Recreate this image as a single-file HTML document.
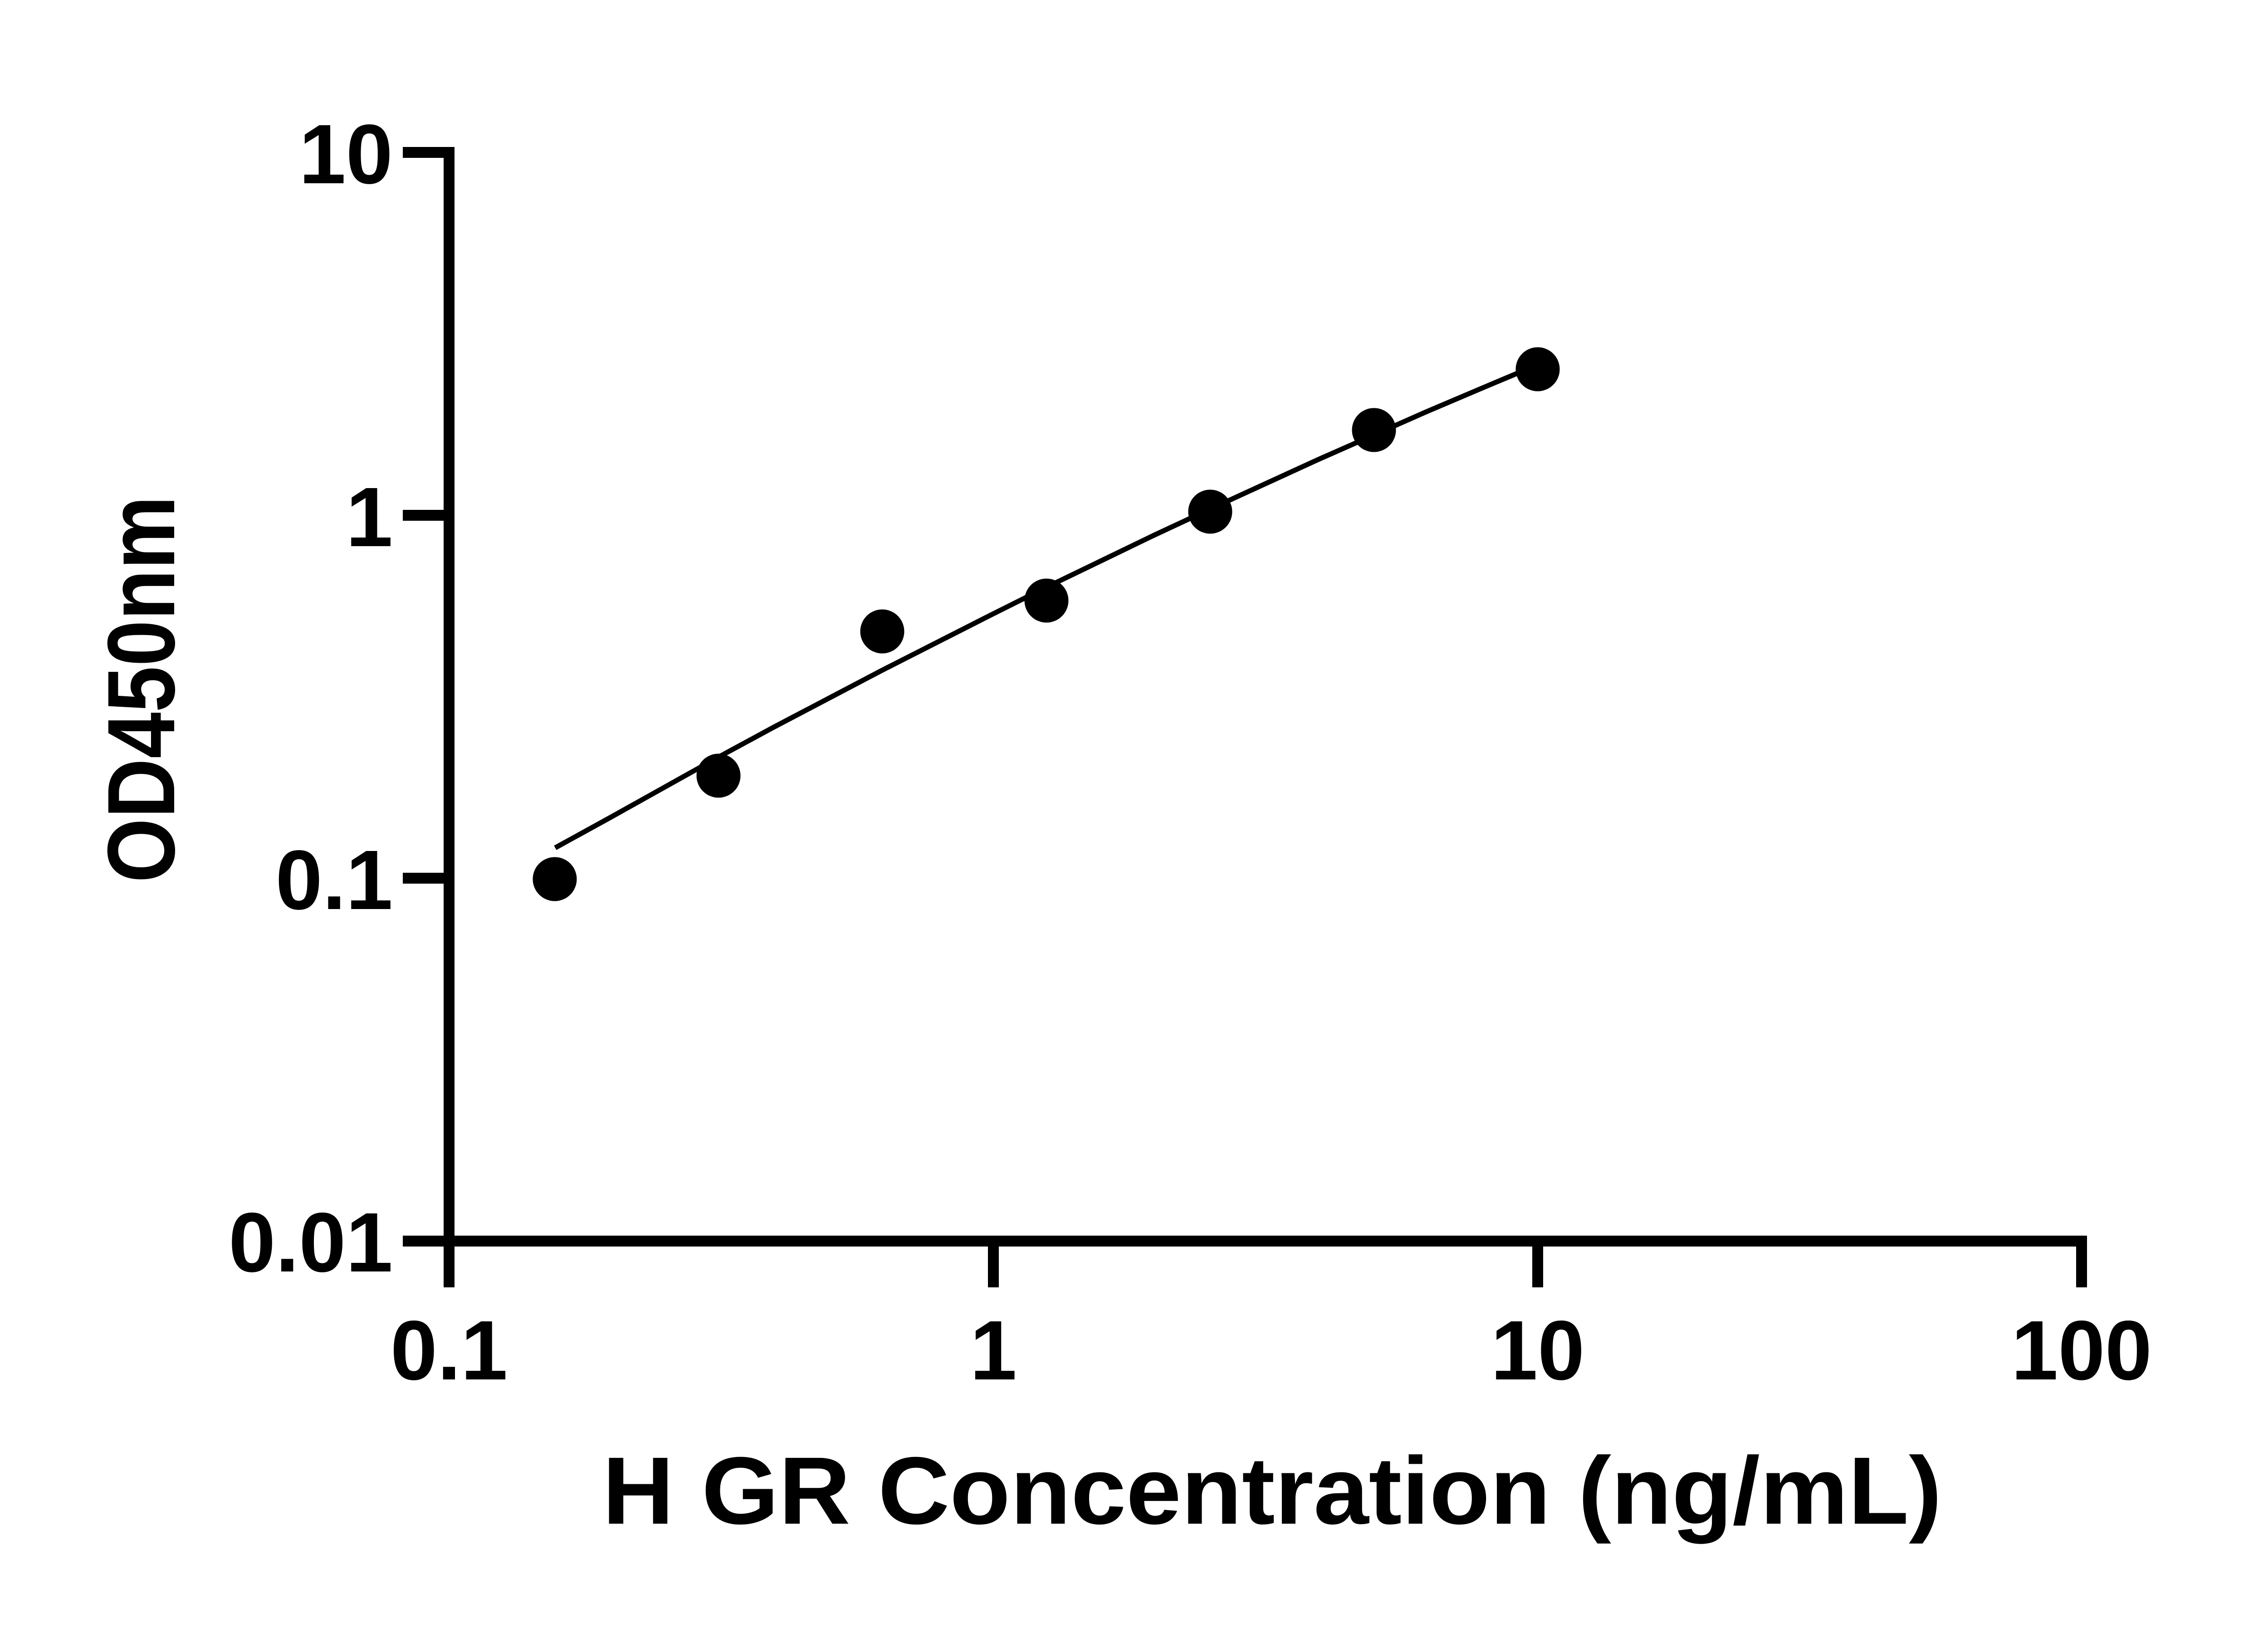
<!DOCTYPE html>
<html>
<head>
<meta charset="utf-8">
<style>
  html, body { margin: 0; padding: 0; background: #ffffff; }
  svg { display: block; }
</style>
</head>
<body>
<svg xmlns="http://www.w3.org/2000/svg" width="5142" height="3600" viewBox="0 0 5142 3600">
  <rect x="0" y="0" width="5142" height="3600" fill="#ffffff"/>

  <!-- Y axis line -->
  <rect x="978" y="324" width="24" height="2424" fill="#000"/>
  <!-- X axis line -->
  <rect x="888" y="2724" width="3713" height="24" fill="#000"/>

  <!-- Y ticks -->
  <rect x="888" y="324" width="114" height="24" fill="#000"/>
  <rect x="888" y="1124" width="114" height="24" fill="#000"/>
  <rect x="888" y="1924" width="114" height="24" fill="#000"/>
  <rect x="888" y="2724" width="114" height="24" fill="#000"/>

  <!-- X ticks -->
  <rect x="978" y="2724" width="24" height="114" fill="#000"/>
  <rect x="2178" y="2724" width="24" height="114" fill="#000"/>
  <rect x="3378" y="2724" width="24" height="114" fill="#000"/>
  <rect x="4577" y="2724" width="24" height="114" fill="#000"/>

  <!-- Y tick labels -->
  <g font-family="'Liberation Sans', Arial, sans-serif" font-weight="bold" font-size="186" fill="#000" text-anchor="end">
    <text x="866" y="404">10</text>
    <text x="866" y="1204">1</text>
    <text x="866" y="2004">0.1</text>
    <text x="866" y="2803">0.01</text>
  </g>

  <!-- X tick labels -->
  <g font-family="'Liberation Sans', Arial, sans-serif" font-weight="bold" font-size="186" fill="#000" text-anchor="middle">
    <text x="990" y="3041">0.1</text>
    <text x="2190" y="3041">1</text>
    <text x="3390" y="3041">10</text>
    <text x="4589" y="3041">100</text>
  </g>

  <!-- Fitted curve -->
  <polyline fill="none" stroke="#000" stroke-width="11" stroke-linejoin="round" stroke-linecap="butt"
    points="1224,1869 1344,1803 1464,1736 1584,1669 1704,1604 1824,1541 1944,1478 2064,1417 2184,1356 2304,1296 2424,1238 2544,1180 2664,1124 2784,1069 2904,1014 3024,961 3144,908 3264,857 3390,804"/>

  <!-- Data points -->
  <g fill="#000">
    <circle cx="1223" cy="1938" r="48.5"/>
    <circle cx="1584" cy="1710" r="48.5"/>
    <circle cx="1945" cy="1392" r="48.5"/>
    <circle cx="2307" cy="1324" r="48.5"/>
    <circle cx="2668" cy="1128" r="48.5"/>
    <circle cx="3029" cy="948" r="48.5"/>
    <circle cx="3390" cy="814" r="48.5"/>
  </g>

  <!-- X axis title -->
  <text x="1328" y="3359" font-family="'Liberation Sans', Arial, sans-serif" font-weight="bold" font-size="211" fill="#000"
        textLength="2953" lengthAdjust="spacingAndGlyphs">H GR Concentration (ng/mL)</text>

  <!-- Y axis title -->
  <text transform="translate(384,1946) rotate(-90)" x="0" y="0" font-family="'Liberation Sans', Arial, sans-serif" font-weight="bold" font-size="211" fill="#000"
        textLength="853" lengthAdjust="spacingAndGlyphs">OD450nm</text>
</svg>
</body>
</html>
